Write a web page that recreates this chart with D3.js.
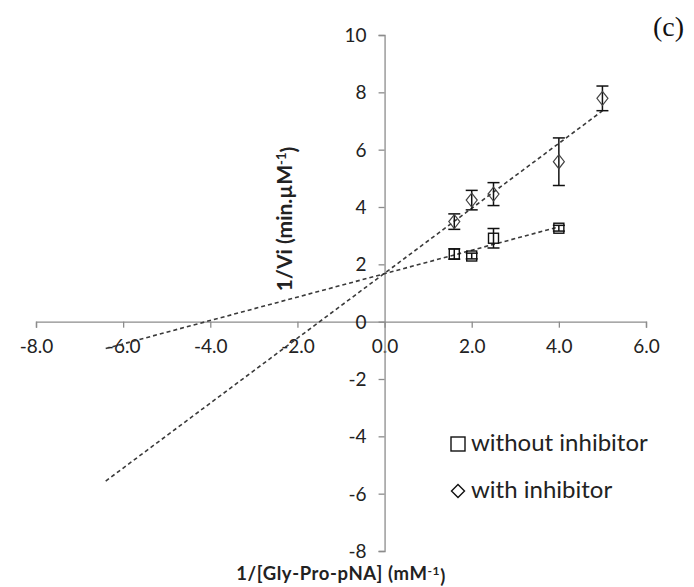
<!DOCTYPE html>
<html>
<head>
<meta charset="utf-8">
<script src="https://cdn.jsdelivr.net/npm/d3@7/dist/d3.min.js"></script>
<style>
  html, body { margin: 0; padding: 0; background: #fff; }
  svg { display: block; }
</style>
</head>
<body>
<svg id="chart" width="694" height="587"></svg>
<script>
// Lineweaver–Burk data: 1/[S] (mM^-1) against 1/Vi (min.µM^-1)
const seriesNames = ["without inhibitor", "with inhibitor"];
const xWithout = [1.6, 2.0, 2.5, 4.0];
const yWithout = [2.36, 2.29, 2.91, 3.26];
const errWithout = [0.18, 0.1, 0.34, 0.1];
const xWith = [1.6, 2.0, 2.5, 4.0, 5.0];
const yWith = [3.49, 4.24, 4.45, 5.58, 7.79];
const errWith = [0.27, 0.34, 0.4, 0.83, 0.43];
const xTicks = [-8, -6, -4, -2, 0, 2, 4, 6];
const yTicks = [-8, -6, -4, -2, 0, 2, 4, 6, 8, 10];
const backwardForecast = 8; // trendlines extended this far below the smallest x

const svg = d3.select("#chart");
const axisColor = "#8c8c8c";
const font = "Lato, 'Open Sans', sans-serif";

const x = d3.scaleLinear().domain([-8, 6]).range([36, 646]);
const y = d3.scaleLinear().domain([-8, 10]).range([551, 35]);

const loc = d3.formatLocale({ decimal: ".", thousands: ",", grouping: [3], currency: ["", ""], minus: "-" });
const fx = loc.format(".1f");
const fy = loc.format("d");

// axes cross at the origin
const gx = svg.append("g")
  .attr("transform", `translate(0,${y(0)})`)
  .call(d3.axisBottom(x).tickValues(xTicks).tickFormat(fx).tickSizeOuter(0).tickSize(6).tickPadding(12));
const gy = svg.append("g")
  .attr("transform", `translate(${x(0)},0)`)
  .call(d3.axisLeft(y).tickValues(yTicks).tickFormat(fy).tickSizeOuter(0).tickSize(6).tickPadding(12));

[gx, gy].forEach(g => {
  g.select(".domain").attr("stroke", axisColor).attr("stroke-width", 1.3);
  g.selectAll(".tick line").attr("stroke", axisColor).attr("stroke-width", 1.3);
  g.selectAll(".tick text").attr("fill", "#222").attr("font-family", font).attr("font-size", 19);
});
gy.selectAll(".tick text").attr("dy", "0.34em");

// least-squares trendline for each series, forecast backwards
function fit(xs, ys) {
  const mx = d3.mean(xs), my = d3.mean(ys);
  const sxy = d3.sum(xs, (v, i) => (v - mx) * (ys[i] - my));
  const sxx = d3.sum(xs, v => (v - mx) * (v - mx));
  const m = sxy / sxx;
  return { m, b: my - m * mx };
}
function trend(xs, ys) {
  const { m, b } = fit(xs, ys);
  const x0 = d3.min(xs) - backwardForecast, x1 = d3.max(xs);
  return [[x0, m * x0 + b], [x1, m * x1 + b]];
}
const line = d3.line().x(d => x(d[0])).y(d => y(d[1]));
[[xWithout, yWithout], [xWith, yWith]].forEach(([xs, ys]) => {
  svg.append("path")
    .attr("d", line(trend(xs, ys)))
    .attr("fill", "none")
    .attr("stroke", "#3a3a3a")
    .attr("stroke-width", 1.6)
    .attr("stroke-dasharray", "4,3");
});

// error bars
function errorBars(xs, ys, es) {
  const g = svg.append("g").attr("stroke", "#111").attr("stroke-width", 1.5);
  xs.forEach((xv, i) => {
    const cx = x(xv), top = y(ys[i] + es[i]), bot = y(ys[i] - es[i]);
    g.append("line").attr("x1", cx).attr("x2", cx).attr("y1", top).attr("y2", bot);
    g.append("line").attr("x1", cx - 6).attr("x2", cx + 6).attr("y1", top).attr("y2", top);
    g.append("line").attr("x1", cx - 6).attr("x2", cx + 6).attr("y1", bot).attr("y2", bot);
  });
}
errorBars(xWithout, yWithout, errWithout);
errorBars(xWith, yWith, errWith);

// markers
const sq = 10;
svg.append("g").selectAll("rect").data(xWithout).join("rect")
  .attr("x", (d) => x(d) - sq / 2)
  .attr("y", (d, i) => y(yWithout[i]) - sq / 2)
  .attr("width", sq).attr("height", sq)
  .attr("fill", "none").attr("stroke", "#111").attr("stroke-width", 1.4);

const diamond = (cx, cy, w, h) => `M${cx},${cy - h / 2}L${cx + w / 2},${cy}L${cx},${cy + h / 2}L${cx - w / 2},${cy}Z`;
svg.append("g").selectAll("path").data(xWith).join("path")
  .attr("d", (d, i) => diamond(x(d), y(yWith[i]), 11, 14))
  .attr("fill", "none").attr("stroke", "#444").attr("stroke-width", 1.2);

// legend
const legend = svg.append("g").attr("font-family", font).attr("font-size", 24).attr("fill", "#222");
legend.append("rect").attr("x", 451).attr("y", 437).attr("width", 14).attr("height", 14)
  .attr("fill", "none").attr("stroke", "#111").attr("stroke-width", 1.4);
legend.append("text").attr("x", 471).attr("y", 443).attr("dy", "0.35em").text(seriesNames[0]);
legend.append("path").attr("d", diamond(458, 491, 13, 13))
  .attr("fill", "none").attr("stroke", "#111").attr("stroke-width", 1.4);
legend.append("text").attr("x", 471).attr("y", 490).attr("dy", "0.35em").text(seriesNames[1]);

// axis titles
const yt = svg.append("text")
  .attr("transform", `translate(292,219) rotate(-90)`)
  .attr("text-anchor", "middle")
  .attr("font-family", font).attr("font-weight", "bold").attr("font-size", 21).attr("fill", "#222");
yt.append("tspan").text("1/Vi (min.µM");
yt.append("tspan").attr("dy", "-0.45em").attr("font-size", 13).text("-1");
yt.append("tspan").attr("dy", "0.45em").text(")");

const xt = svg.append("text")
  .attr("x", 341).attr("y", 580)
  .attr("text-anchor", "middle")
  .attr("font-family", font).attr("font-weight", "bold").attr("font-size", 18.5)
  .attr("letter-spacing", 0.6).attr("fill", "#222");
xt.append("tspan").text("1/[Gly-Pro-pNA] (mM");
xt.append("tspan").attr("dy", "-0.45em").attr("font-size", 12).text("-1");
xt.append("tspan").attr("dy", "0.45em").text(")");

// panel label
svg.append("text").attr("x", 653).attr("y", 36)
  .attr("font-family", "'Liberation Serif', 'DejaVu Serif', serif").attr("font-size", 28).attr("fill", "#111")
  .text("(c)");
</script>
</body>
</html>
